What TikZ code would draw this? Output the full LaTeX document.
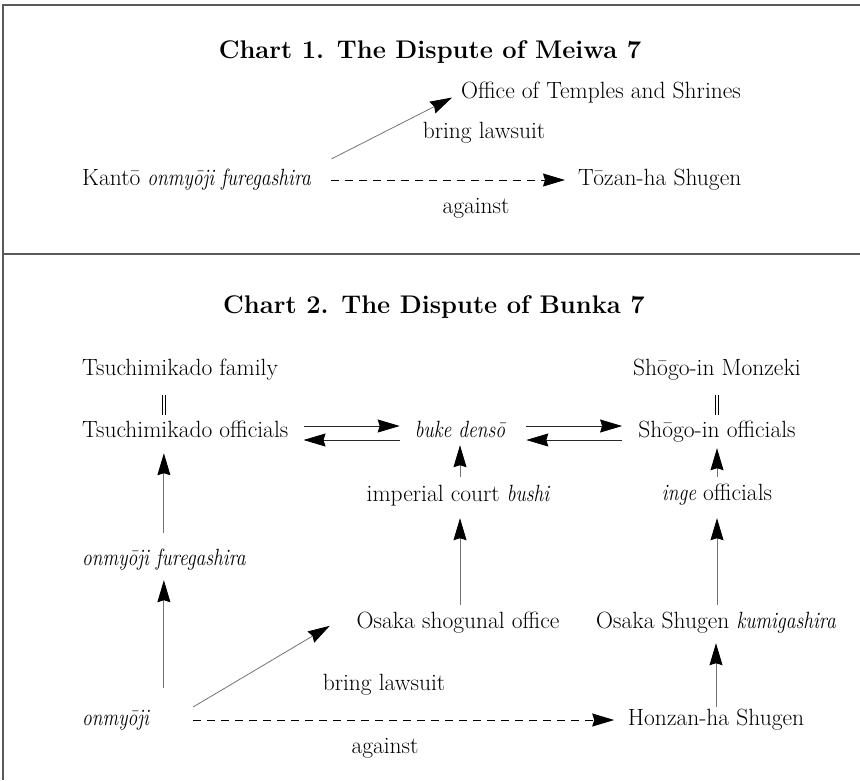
\documentclass[tikz,border=0pt]{standalone}
\usepackage{tikz}
\usepackage{graphicx}
\usetikzlibrary{positioning,arrows.meta,calc}
\newcommand{\jp}[1]{\scalebox{0.83}[1]{\itshape #1}}

\begin{document}
\begin{tikzpicture}[
    x=1pt, y=-1pt,
    lbl/.style={inner sep=0pt, text height=16pt, text depth=5pt, font=\fontsize{23.5}{28}\selectfont},
    wlbl/.style={lbl, anchor=west},
    charttitle/.style={inner sep=0pt, font=\fontsize{25.5}{30}\selectfont\bfseries},
    arrow/.style={-{Stealth[inset=2pt, length=22pt, width=13pt, color=black]}, draw=black!55, line width=0.8pt},
    harrow/.style={arrow, draw=black!85},
    dasharrow/.style={arrow, draw=black, line width=1pt, dash pattern=on 8pt off 6pt},
    equal/.style={draw=black, double, double distance=2pt, line width=0.8pt},
    rule/.style={draw=black!65, line width=1.5pt}
]
    \useasboundingbox (0,0) rectangle (860,780);

    % Frame and divider
    \draw[rule] (860,5) -- (3,5) -- (3,780);
    \draw[rule] (3,254) -- (860,254);

    % Chart 1
    \node[charttitle] (title1) at (430,52) {Chart 1. The Dispute of Meiwa 7};
    \node[wlbl] (office) at (461,93) {Office of Temples and Shrines};
    \node[wlbl] (kanto) at (82,180) {Kantō \jp{onmyōji furegashira}};
    \node[wlbl] (tozan) at (578,180) {Tōzan-ha Shugen};
    \node[lbl] (sue1) at (484,133) {bring lawsuit};
    \node[lbl] (against1) at (476,208) {against};

    \draw[arrow, shorten <=23pt, shorten >=10pt] (kanto.north east) -- (office.west);
    \draw[dasharrow, shorten <=20pt, shorten >=13pt] (kanto.east) -- (tozan.west);

    % Chart 2: left column
    \node[charttitle] (title2) at (434,307) {Chart 2. The Dispute of Bunka 7};
    \node[wlbl] (tfam) at (82,370) {Tsuchimikado family};
    \node[wlbl] (toff) at (82,432) {Tsuchimikado officials};
    \node[wlbl] (fure) at (82,560) {\jp{onmyōji furegashira}};
    \node[wlbl] (onm) at (82,720) {\jp{onmyōji}};

    % Chart 2: middle column
    \node[lbl] (buke) at (460,432) {\jp{buke densō}};
    \node[lbl] (court) at (458,496) {imperial court \jp{bushi}};
    \node[lbl] (osho) at (458,623) {Osaka shogunal office};

    % Chart 2: right column
    \node[lbl] (smon) at (717,370) {Shōgo-in Monzeki};
    \node[lbl] (soff) at (717,432) {Shōgo-in officials};
    \node[lbl] (inge) at (717,495) {\jp{inge} officials};
    \node[lbl] (oskm) at (716,623) {Osaka Shugen \jp{kumigashira}};
    \node[lbl] (honz) at (716,720) {Honzan-ha Shugen};

    % Chart 2: edge labels
    \node[lbl] (sue2) at (384,685) {bring lawsuit};
    \node[lbl] (against2) at (385,748) {against};

    % Identity bars
    \draw[equal, shorten <=14.5pt, shorten >=6.5pt] (tfam.south -| fure.north) -- (toff.north -| fure.north);
    \draw[equal, shorten <=14.5pt, shorten >=6.5pt] (smon.south) -- (soff.north);

    % Upward chains
    \draw[arrow, shorten <=16.5pt, shorten >=10.5pt] (fure.north) -- (fure.north |- toff.south);
    \draw[arrow, shorten <=21.5pt, shorten >=9.5pt] (onm.north -| fure.north) -- (fure.south);
    \draw[arrow, shorten <=8.5pt, shorten >=2.5pt] (court.north -| buke.south) -- (buke.south);
    \draw[arrow, shorten <=7.5pt, shorten >=11.5pt] (osho.north -| buke.south) -- (court.south -| buke.south);
    \draw[arrow, shorten <=7.5pt, shorten >=5.5pt] (inge.north -| soff.south) -- (soff.south);
    \draw[arrow, shorten <=7.5pt, shorten >=12.5pt] (oskm.north -| soff.south) -- (inge.south -| soff.south);
    \draw[arrow, shorten <=2.5pt, shorten >=9.5pt] (honz.north) -- (oskm.south -| honz.north);

    % Exchanges along the officials row
    \draw[harrow, shorten <=15pt, shorten >=15pt] ([yshift=6pt]toff.east) -- ([yshift=6pt]toff.east -| buke.west);
    \draw[harrow, shorten <=15pt, shorten >=15pt] ([yshift=-8pt]buke.west) -- ([yshift=-8pt]buke.west -| toff.east);
    \draw[harrow, shorten <=21pt, shorten >=16pt] ([yshift=6pt]buke.east) -- ([yshift=6pt]buke.east -| soff.west);
    \draw[harrow, shorten <=16pt, shorten >=21pt] ([yshift=-8pt]soff.west) -- ([yshift=-8pt]soff.west -| buke.east);

    % Lawsuit and opposition
    \draw[arrow, shorten <=25.5pt, shorten >=31pt] ([xshift=22pt]onm.east) -- ([yshift=13pt]osho.west);
    \draw[dasharrow, shorten <=44pt, shorten >=13.5pt] (onm.east) -- (honz.west);
\end{tikzpicture}
\end{document}
